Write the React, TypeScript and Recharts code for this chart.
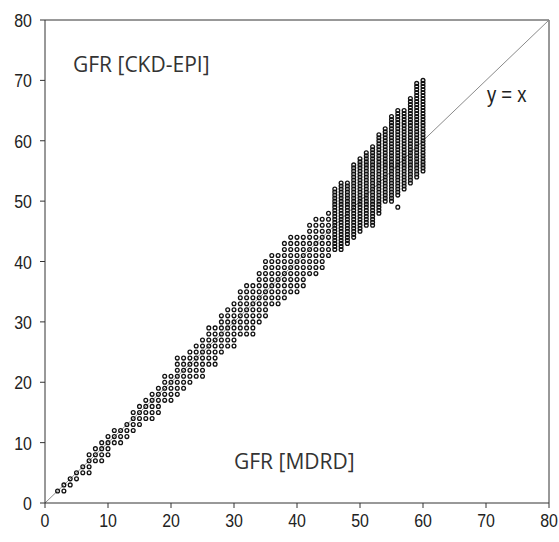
import { ScatterChart, Scatter, XAxis, YAxis, ReferenceLine } from "recharts";

// GFR by MDRD (x) — one column per integer value
const mdrdValues = [
  2, 3, 4, 5, 6, 7, 8, 9, 10, 11, 12, 13, 14, 15, 16, 17, 18, 19, 20, 21, 22, 23, 24, 25, 26, 27, 28, 29, 30, 31,
  32, 33, 34, 35, 36, 37, 38, 39, 40, 41, 42, 43, 44, 45, 46, 47, 48, 49, 50, 51, 52, 53, 54, 55, 56, 57, 58, 59, 60,
];

// GFR by CKD-EPI (y) seen in each MDRD column
const ckdEpiByColumn: number[][] = [
  [2],
  [2, 3],
  [3, 4],
  [4, 5],
  [5, 6],
  [5, 6, 7, 8],
  [7, 8, 9],
  [7, 8, 9, 10],
  [8, 9, 10, 11],
  [10, 11, 12],
  [10, 11, 12],
  [11, 12, 13],
  [12, 13, 14, 15],
  [13, 14, 15, 16],
  [14, 15, 16, 17],
  [14, 15, 16, 17, 18],
  [15, 16, 17, 18, 19],
  [17, 18, 19, 20, 21],
  [17, 18, 19, 20, 21],
  [18, 19, 20, 21, 22, 23, 24],
  [19, 20, 21, 22, 23, 24],
  [20, 21, 22, 23, 24, 25],
  [21, 22, 23, 24, 25, 26],
  [21, 22, 23, 24, 25, 26, 27],
  [23, 24, 25, 26, 27, 28, 29],
  [23, 24, 25, 26, 27, 28, 29],
  [25, 26, 27, 28, 29, 30, 31],
  [26, 27, 28, 29, 30, 31, 32],
  [26, 27, 28, 29, 30, 31, 32, 33],
  [28, 29, 30, 31, 32, 33, 34, 35],
  [28, 29, 30, 31, 32, 33, 34, 35, 36],
  [28, 29, 30, 31, 32, 33, 34, 35, 36],
  [30, 31, 32, 33, 34, 35, 36, 37, 38],
  [31, 32, 33, 34, 35, 36, 37, 38, 39, 40],
  [33, 34, 35, 36, 37, 38, 39, 40, 41],
  [33, 34, 35, 36, 37, 38, 39, 40, 41],
  [34, 35, 36, 37, 38, 39, 40, 41, 42, 43],
  [35, 36, 37, 38, 39, 40, 41, 42, 43, 44],
  [35, 36, 37, 38, 39, 40, 41, 42, 43, 44],
  [36, 37, 38, 39, 40, 41, 42, 43, 44],
  [38, 39, 40, 41, 42, 43, 44, 45, 46],
  [38, 39, 40, 41, 42, 43, 44, 45, 46, 47],
  [39, 40, 41, 42, 43, 44, 45, 46, 47],
  [41, 42, 43, 44, 45, 46, 47, 48],
  [42, 42.5, 43, 43.5, 44, 44.5, 45, 45.5, 46, 46.5, 47, 47.5, 48, 48.5, 49, 49.5, 50, 50.5, 51, 51.5, 52],
  [42, 42.5, 43, 43.5, 44, 44.5, 45, 45.5, 46, 46.5, 47, 47.5, 48, 48.5, 49, 49.5, 50, 50.5, 51, 51.5, 52, 52.5, 53],
  [43, 43.5, 44, 44.5, 45, 45.5, 46, 46.5, 47, 47.5, 48, 48.5, 49, 49.5, 50, 50.5, 51, 51.5, 52, 52.5, 53],
  [44, 44.5, 45, 45.5, 46, 46.5, 47, 47.5, 48, 48.5, 49, 49.5, 50, 50.5, 51, 51.5, 52, 52.5, 53, 53.5, 54, 54.5, 55, 55.5, 56],
  [45, 45.5, 46, 46.5, 47, 47.5, 48, 48.5, 49, 49.5, 50, 50.5, 51, 51.5, 52, 52.5, 53, 53.5, 54, 54.5, 55, 55.5, 56, 56.5, 57],
  [46, 46.5, 47, 47.5, 48, 48.5, 49, 49.5, 50, 50.5, 51, 51.5, 52, 52.5, 53, 53.5, 54, 54.5, 55, 55.5, 56, 56.5, 57, 57.5, 58],
  [46, 46.5, 47, 47.5, 48, 48.5, 49, 49.5, 50, 50.5, 51, 51.5, 52, 52.5, 53, 53.5, 54, 54.5, 55, 55.5, 56, 56.5, 57, 57.5, 58, 58.5, 59],
  [48, 48.5, 49, 49.5, 50, 50.5, 51, 51.5, 52, 52.5, 53, 53.5, 54, 54.5, 55, 55.5, 56, 56.5, 57, 57.5, 58, 58.5, 59, 59.5, 60, 60.5, 61],
  [50, 50.5, 51, 51.5, 52, 52.5, 53, 53.5, 54, 54.5, 55, 55.5, 56, 56.5, 57, 57.5, 58, 58.5, 59, 59.5, 60, 60.5, 61, 61.5, 62],
  [50, 50.5, 51, 51.5, 52, 52.5, 53, 53.5, 54, 54.5, 55, 55.5, 56, 56.5, 57, 57.5, 58, 58.5, 59, 59.5, 60, 60.5, 61, 61.5, 62, 62.5, 63, 63.5, 64],
  [49, 51, 51.5, 52, 52.5, 53, 53.5, 54, 54.5, 55, 55.5, 56, 56.5, 57, 57.5, 58, 58.5, 59, 59.5, 60, 60.5, 61, 61.5, 62, 62.5, 63, 63.5, 64, 64.5, 65],
  [52, 52.5, 53, 53.5, 54, 54.5, 55, 55.5, 56, 56.5, 57, 57.5, 58, 58.5, 59, 59.5, 60, 60.5, 61, 61.5, 62, 62.5, 63, 63.5, 64, 64.5, 65],
  [53, 53.5, 54, 54.5, 55, 55.5, 56, 56.5, 57, 57.5, 58, 58.5, 59, 59.5, 60, 60.5, 61, 61.5, 62, 62.5, 63, 63.5, 64, 64.5, 65, 65.5, 66, 66.5, 67],
  [54, 54.5, 55, 55.5, 56, 56.5, 57, 57.5, 58, 58.5, 59, 59.5, 60, 60.5, 61, 61.5, 62, 62.5, 63, 63.5, 64, 64.5, 65, 65.5, 66, 66.5, 67, 67.5, 68, 68.5, 69, 69.5],
  [55, 55.5, 56, 56.5, 57, 57.5, 58, 58.5, 59, 59.5, 60, 60.5, 61, 61.5, 62, 62.5, 63, 63.5, 64, 64.5, 65, 65.5, 66, 66.5, 67, 67.5, 68, 68.5, 69, 69.5, 70],
];

const axisTicks = [0, 10, 20, 30, 40, 50, 60, 70, 80];

const points = mdrdValues.flatMap((mdrd, i) =>
  ckdEpiByColumn[i].map((ckdEpi) => ({ mdrd, ckdEpi }))
);

const tickFont = "'Liberation Sans', Arial, sans-serif";
const labelFont = "'Open Sans', 'Noto Sans', sans-serif";
const narrow = 0.84;

const Ring = (props: any) => (
  <circle cx={props.cx} cy={props.cy} r={1.9} fill="none" stroke="#111" strokeWidth={1.3} />
);

// condensed tick labels, like the original's narrow face
const XTick = (props: any) => {
  const { x, y, payload } = props;
  return (
    <text
      transform={`translate(${x},${y + 17}) scale(${narrow},1)`}
      textAnchor="middle"
      fontSize={19}
      fill="#222"
      fontFamily={tickFont}
    >
      {payload.value}
    </text>
  );
};

const YTick = (props: any) => {
  const { x, y, payload } = props;
  return (
    <text
      transform={`translate(${x},${y + 7}) scale(${narrow},1)`}
      textAnchor="end"
      fontSize={19}
      fill="#222"
      fontFamily={tickFont}
    >
      {payload.value}
    </text>
  );
};

const App = () => {
  return (
    <div style={{ position: "absolute", left: 0, top: 0, width: 559, height: 542, background: "#fff" }}>
      <ScatterChart width={559} height={542} margin={{ top: 20, right: 10, bottom: 0, left: 5 }}>
        <XAxis
          type="number"
          dataKey="mdrd"
          domain={[0, 80]}
          ticks={axisTicks}
          height={39}
          tickSize={5}
          tickMargin={2}
          interval={0}
          stroke="#333"
          tick={<XTick />}
        />
        <YAxis
          type="number"
          dataKey="ckdEpi"
          domain={[0, 80]}
          ticks={axisTicks}
          width={40}
          tickSize={5}
          tickMargin={8}
          interval={0}
          stroke="#333"
          tick={<YTick />}
        />
        <ReferenceLine y={80} stroke="#333" />
        <ReferenceLine x={80} stroke="#333" />
        <ReferenceLine
          segment={[
            { x: 0, y: 0 },
            { x: 80, y: 80 },
          ]}
          stroke="#8a8a8a"
          strokeWidth={1}
        />
        <Scatter data={points} shape={Ring} isAnimationActive={false} />
      </ScatterChart>
      <svg
        width={559}
        height={542}
        style={{ position: "absolute", left: 0, top: 0, pointerEvents: "none" }}
      >
        <rect x={70} y={42} width={148} height={42} fill="#fff" />
        <text x={73} y={72} fontSize={21} fill="#333" fontFamily={labelFont}>
          GFR [CKD-EPI]
        </text>
        <text x={234} y={469} fontSize={21} fill="#333" fontFamily={labelFont}>
          GFR [MDRD]
        </text>
        <text
          transform={`translate(487,102) scale(${narrow},1)`}
          fontSize={22}
          fill="#222"
          fontFamily={tickFont}
        >
          y = x
        </text>
      </svg>
    </div>
  );
};

export default App;
